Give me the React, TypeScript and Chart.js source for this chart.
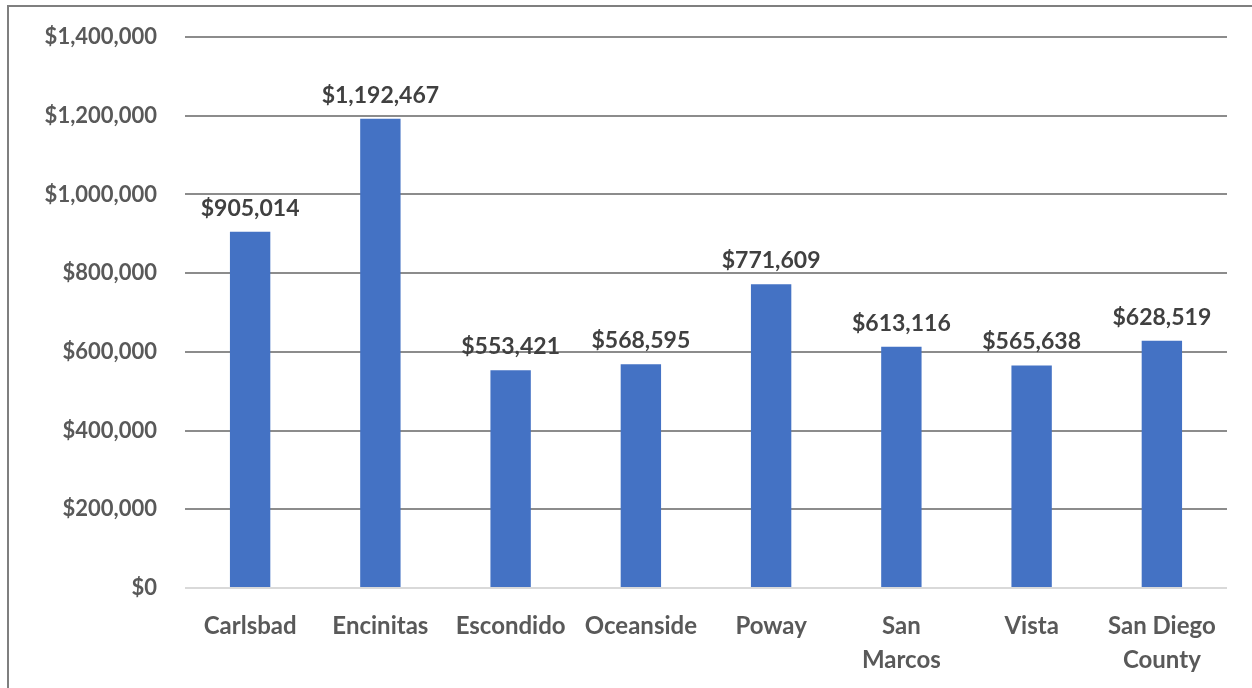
import React, { useEffect, useRef } from "react";
import { Chart, registerables } from "chart.js";

Chart.register(...registerables);

const categories: (string | string[])[] = [
  "Carlsbad",
  "Encinitas",
  "Escondido",
  "Oceanside",
  "Poway",
  ["San", "Marcos"],
  "Vista",
  ["San Diego", "County"],
];
const values: number[] = [905014, 1192467, 553421, 568595, 771609, 613116, 565638, 628519];
const yMax = 1400000;
const yStep = 200000;

const fmt = (v: number) => "$" + Math.round(v).toLocaleString("en-US");
const FONT = "Lato, 'Noto Sans', sans-serif";

const dataLabels = {
  id: "dataLabels",
  afterDatasetsDraw(chart: any) {
    const ctx = chart.ctx;
    const meta = chart.getDatasetMeta(0);
    ctx.save();
    ctx.font = `bold 23px ${FONT}`;
    ctx.fillStyle = "#404040";
    ctx.textAlign = "center";
    ctx.textBaseline = "bottom";
    meta.data.forEach((bar: any, i: number) => {
      ctx.fillText(fmt(values[i]), bar.x, bar.y - 12);
    });
    ctx.restore();
  },
};

export default function App() {
  const ref = useRef<HTMLCanvasElement | null>(null);
  useEffect(() => {
    if (!ref.current) return;
    const chart = new Chart(ref.current, {
      type: "bar",
      data: {
        labels: categories,
        datasets: [
          {
            data: values,
            backgroundColor: "#4472C4",
            borderWidth: 0,
            categoryPercentage: 1,
            barPercentage: 0.31,
          },
        ],
      },
      options: {
        responsive: false,
        animation: false,
        events: [],
        layout: { padding: { top: 37, right: 25, left: 0, bottom: 0 } },
        plugins: { legend: { display: false }, tooltip: { enabled: false } },
        scales: {
          x: {
            grid: { display: false, drawTicks: false },
            border: { display: false },
            ticks: {
              color: "#595959",
              font: { family: FONT, size: 24, weight: "bold", lineHeight: 1.42 },
              padding: 21,
              maxRotation: 0,
              autoSkip: false,
            },
            afterFit: (s: any) => {
              s.height = 100;
              s.paddingLeft = 0;
              s.paddingRight = 0;
            },
          },
          y: {
            min: 0,
            max: yMax,
            ticks: {
              stepSize: yStep,
              color: "#595959",
              font: { family: FONT, size: 22, weight: "bold" },
              padding: 28,
              callback: (v: any) => fmt(Number(v)),
            },
            grid: {
              drawTicks: false,
              lineWidth: 2,
              color: (c: any) => (c.index === 0 ? "#d9d9d9" : "#8c8c8c"),
            },
            border: { display: false },
            afterFit: (s: any) => {
              s.width = 185;
              s.paddingTop = 0;
              s.paddingBottom = 0;
            },
          },
        },
      },
      plugins: [dataLabels],
    });
    return () => chart.destroy();
  }, []);

  return (
    <div style={{ position: "fixed", left: 0, top: 0, width: 1252, height: 688, background: "#fff", overflow: "hidden" }}>
      <div
        style={{
          position: "absolute",
          left: 7,
          top: 5,
          width: 1260,
          height: 700,
          borderTop: "2px solid #7f7f7f",
          borderLeft: "2px solid #7f7f7f",
          boxSizing: "border-box",
        }}
      />
      <canvas ref={ref} width={1252} height={688} style={{ position: "absolute", left: 0, top: 0 }} />
    </div>
  );
}
